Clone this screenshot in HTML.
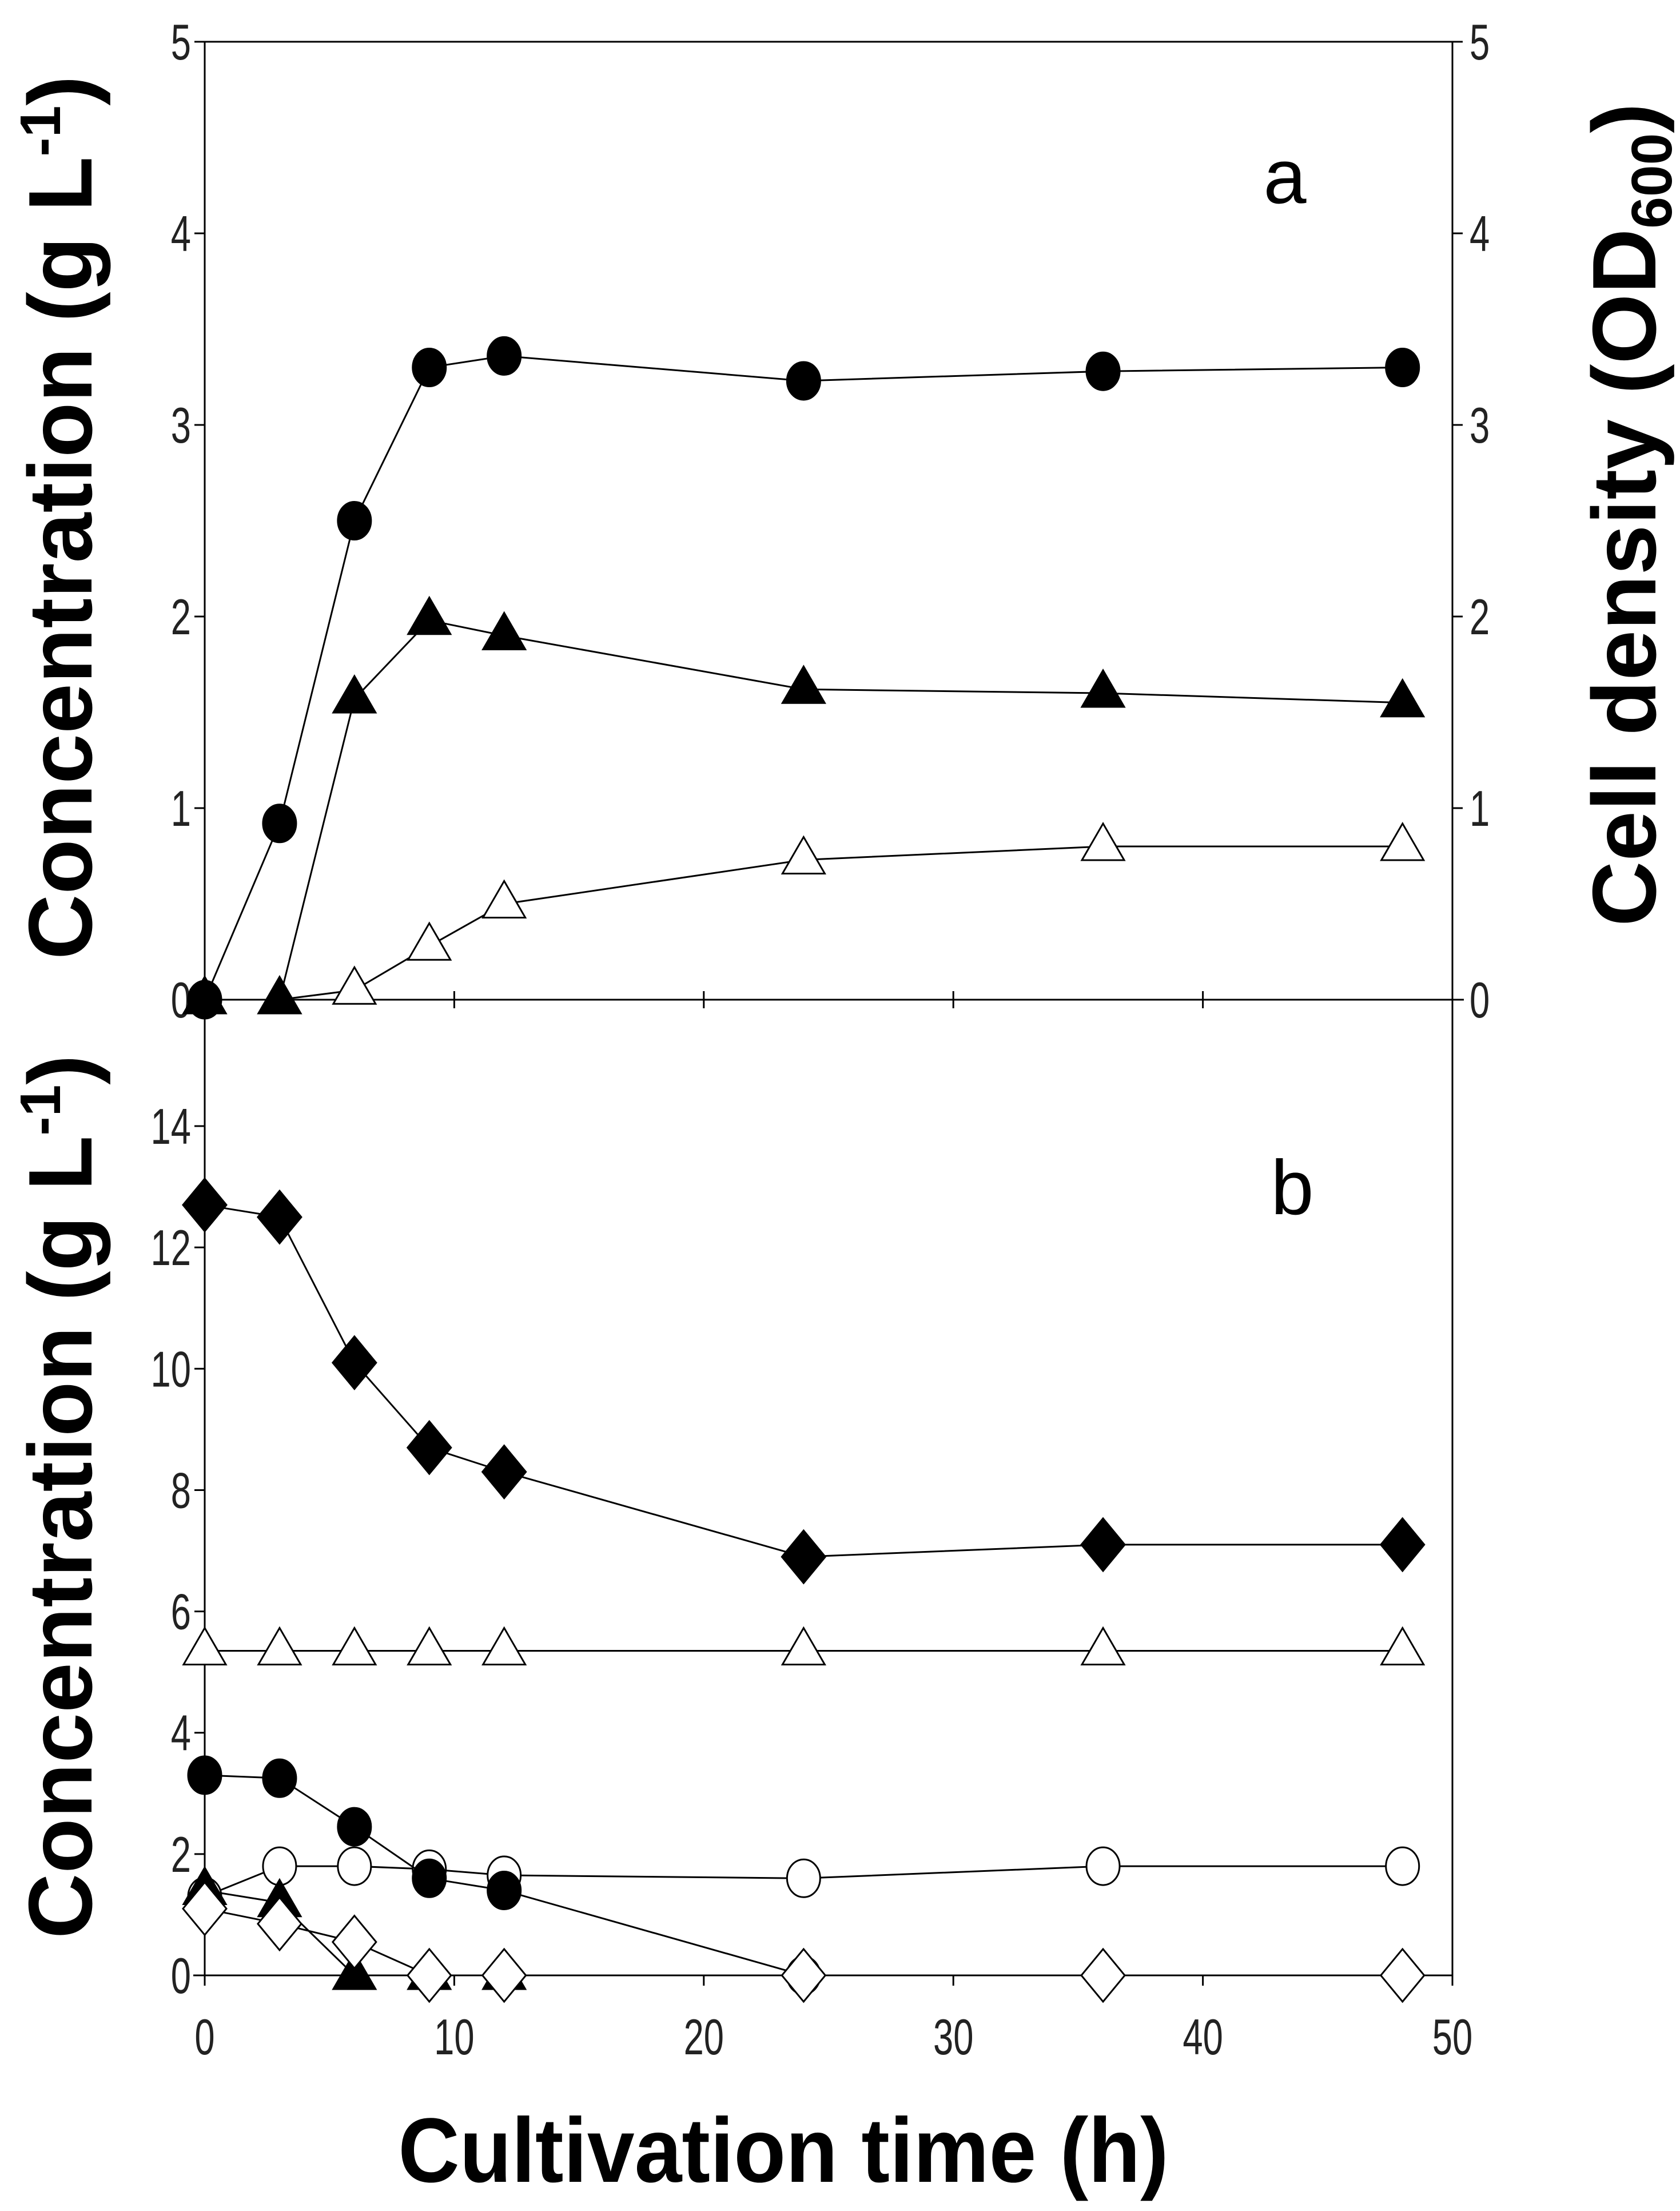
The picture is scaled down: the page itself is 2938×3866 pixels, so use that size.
<!DOCTYPE html>
<html><head><meta charset="utf-8"><style>
html,body{margin:0;padding:0;background:#fff;}
svg{display:block;}
text{font-family:"Liberation Sans",sans-serif;}
</style></head><body>
<svg id="chart" width="2938" height="3866" viewBox="0 0 2938 3866" xmlns="http://www.w3.org/2000/svg"></svg>
<script>
const timesA = [0,3,6,9,12,24,36,48];
const aFilledCircle = [0,0.92,2.5,3.3,3.36,3.23,3.28,3.3];
const aFilledTri = [0,0,1.57,1.98,1.9,1.62,1.6,1.55];
const aOpenTri = [0,0,0.05,0.28,0.5,0.73,0.8,0.8];
const timesB = [0,3,6,9,12,24,36,48];
const bFilledDiamond = [12.7,12.5,10.1,8.7,8.3,6.9,7.1,7.1];
const bOpenTri = [5.35,5.35,5.35,5.35,5.35,5.35,5.35,5.35];
const bFilledCircleT = [0,3,6,9,12,24];
const bFilledCircle = [3.3,3.25,2.45,1.6,1.4,0];
const bOpenCircle = [1.3,1.8,1.8,1.75,1.65,1.6,1.8,1.8];
const bFilledTriT = [0,3,6,9,12];
const bFilledTri = [1.4,1.2,0,0,0];
const bOpenDiamond = [1.1,0.85,0.55,0,0,0,0,0];
const xTicks = [0,10,20,30,40,50];
const aTicks = [0,1,2,3,4,5];
const bTicks = [0,2,4,6,8,10,12,14];

const NS="http://www.w3.org/2000/svg";
const svg=document.getElementById('chart');
const X0=358,X1=2540;
const xs=t=>X0+(X1-X0)*t/50;
const yA=v=>1748-(1748-73)*v/5;
const yB=v=>3454-v*106.07;
function mk(tag,attrs,parent){const e=document.createElementNS(NS,tag);for(const k in attrs)e.setAttribute(k,attrs[k]);(parent||svg).appendChild(e);return e;}
function txt(s,x,y,size,opts){const e=mk('text',Object.assign({x:x,y:y,'font-size':size},opts||{}));e.textContent=s;return e;}

let e;
e=mk('line',{x1:X0,y1:73,x2:X0,y2:3454,stroke:'#000','stroke-width':3});


e=mk('line',{x1:X1,y1:73,x2:X1,y2:3454,stroke:'#000','stroke-width':3});


e=mk('line',{x1:X0,y1:73,x2:X1,y2:73,stroke:'#000','stroke-width':3});


e=mk('line',{x1:X0,y1:1748,x2:X1+20,y2:1748,stroke:'#000','stroke-width':3});


e=mk('line',{x1:X0-20,y1:3454,x2:X1,y2:3454,stroke:'#000','stroke-width':3});



function tickLabel(s,x,y,anchor,name){
  const t=txt(s,x,y,88,{'text-anchor':anchor,fill:'#222',transform:`translate(${x},0) scale(0.72,1) translate(${-x},0)`});
  
  
}
aTicks.forEach(v=>{
  mk('line',{x1:X0-18,y1:yA(v),x2:X0,y2:yA(v),stroke:'#000','stroke-width':3});
  mk('line',{x1:X1,y1:yA(v),x2:X1+18,y2:yA(v),stroke:'#000','stroke-width':3});
  tickLabel(String(v),X0-24,yA(v)+31,'end','a-left-tick-label');
  tickLabel(String(v),X1+30,yA(v)+31,'start','a-right-tick-label');
});
bTicks.forEach(v=>{
  mk('line',{x1:X0-18,y1:yB(v),x2:X0,y2:yB(v),stroke:'#000','stroke-width':3});
  tickLabel(String(v),X0-24,yB(v)+31,'end','b-tick-label');
});
xTicks.forEach(v=>{
  mk('line',{x1:xs(v),y1:1733,x2:xs(v),y2:1763,stroke:'#000','stroke-width':3});
  mk('line',{x1:xs(v),y1:3454,x2:xs(v),y2:3472,stroke:'#000','stroke-width':3});
  tickLabel(String(v),xs(v),3592,'middle','x-tick-label');
});

e=txt('',0,0,158,{'font-weight':'bold',transform:'translate(160,905) rotate(-90)','text-anchor':'middle'});
e.innerHTML='Concentration (g L<tspan font-size="100" dy="-55">-1</tspan><tspan dy="55">)</tspan>';


e=txt('',0,0,158,{'font-weight':'bold',transform:'translate(160,2617) rotate(-90)','text-anchor':'middle'});
e.innerHTML='Concentration (g L<tspan font-size="100" dy="-55">-1</tspan><tspan dy="55">)</tspan>';


e=txt('',0,0,158,{'font-weight':'bold',transform:'translate(2895,900) rotate(-90)','text-anchor':'middle'});
e.innerHTML='Cell density (OD<tspan font-size="100" dy="28">600</tspan><tspan dy="-28">)</tspan>';


e=txt('Cultivation time (h)',1370,3815,160,{'font-weight':'bold','text-anchor':'middle',transform:'translate(1370,0) scale(0.93,1) translate(-1370,0)'});


e=txt('a',2247,355,135,{'text-anchor':'middle'});


e=txt('b',2260,2123,135,{'text-anchor':'middle'});



function marker(shape,fill,cx,cy,name){
  let m;
  if(shape==='circle') m=mk('ellipse',{cx:cx,cy:cy,rx:29,ry:33});
  else if(shape==='tri') m=mk('polygon',{points:`${cx},${cy-40} ${cx-37},${cy+24} ${cx+37},${cy+24}`});
  else m=mk('polygon',{points:`${cx},${cy-46} ${cx+38},${cy} ${cx},${cy+46} ${cx-38},${cy}`});
  m.setAttribute('fill',fill);m.setAttribute('stroke','#000');m.setAttribute('stroke-width',3);
  
  
}
function series(ts,vals,yf,shape,fill,name){
  const pts=ts.map((t,i)=>xs(t)+','+yf(vals[i])).join(' ');
  const l=mk('polyline',{points:pts,fill:'none',stroke:'#000','stroke-width':3});
  
  
  ts.forEach((t,i)=>marker(shape,fill,xs(t),yf(vals[i]),name+'-point'));
}
series(timesA,aOpenTri,yA,'tri','#fff','a-open-triangle');
series(timesA,aFilledTri,yA,'tri','#000','a-filled-triangle');
series(timesA,aFilledCircle,yA,'circle','#000','a-filled-circle');
series(timesB,bOpenTri,yB,'tri','#fff','b-open-triangle');
series(timesB,bFilledDiamond,yB,'diamond','#000','b-filled-diamond');
series(timesB,bOpenCircle,yB,'circle','#fff','b-open-circle');
series(bFilledTriT,bFilledTri,yB,'tri','#000','b-filled-triangle');
series(bFilledCircleT,bFilledCircle,yB,'circle','#000','b-filled-circle');
series(timesB,bOpenDiamond,yB,'diamond','#fff','b-open-diamond');
</script>
</body></html>
